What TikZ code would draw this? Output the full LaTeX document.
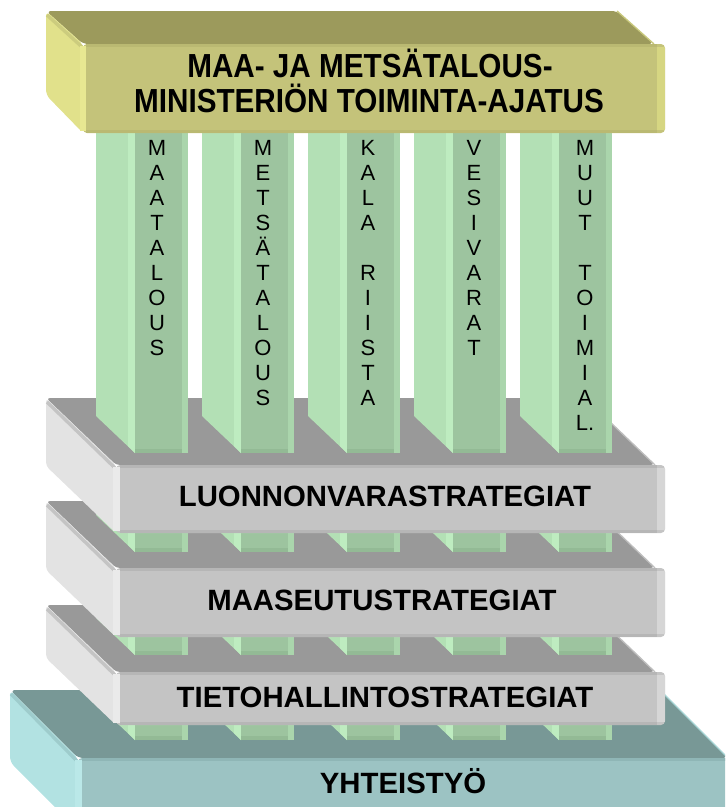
\documentclass[tikz,border=0pt]{standalone}
\usepackage{fontspec}
\setmainfont{Liberation Sans}
\newfontfamily\titlefont{Liberation Sans}[FakeStretch=0.89]
\usepackage{tikz}

% one piece of a column: left x, top y, foot y
\newcommand{\pillarseg}[3]{%
  \fill[pillarside] (#1,#2) -- (#1+39,#2) -- (#1+39,#3) -- (#1,#3-37) -- cycle;
  \fill[pillarlight] (#1+32,#2) -- (#1+39,#2) -- (#1+39,#3) -- (#1+32,#3-7) -- cycle;
  \fill[pillarfront] (#1+39,#2) rectangle (#1+92,#3);
  \fill[pillarrim] (#1+86,#2) rectangle (#1+92,#3);
  \fill[pillarfoot] (#1+39,#3-4) rectangle (#1+86,#3);
}

% one grey strategy slab: front top y, height
\newcommand{\grayslab}[2]{%
  \fill[graytop, rounded corners=3] (46,#1-67) -- (585,#1-67) -- (655,#1) -- (116,#1) -- cycle;
  \draw[grayedge] (585,#1-67) -- (655,#1);
  \fill[grayside, rounded corners=3] (46,#1-67) -- (116,#1) -- (116,#1+#2) -- (46,#1+#2-67) -- cycle;
  \draw[graybevel] (47,#1-63) -- (115,#1+3);
  \fill[grayfront, rounded corners=3] (116,#1) rectangle (665,#1+#2);
  \fill[grayband] (120,#1) rectangle (657,#1+3);
  \fill[grayband] (120,#1+#2-3) rectangle (657,#1+#2);
  \fill[graylight] (113,#1+2) rectangle (120,#1+#2-2);
  \fill[grayrim] (657,#1+3) rectangle (665,#1+#2-3);
}

\begin{document}
\begin{tikzpicture}[x=0.75pt,y=0.75pt,yscale=-1,xscale=1,
  pillarside/.style={fill={rgb, 255:red, 179; green, 224; blue, 181}},
  pillarlight/.style={fill={rgb, 255:red, 190; green, 236; blue, 192}},
  pillarfront/.style={fill={rgb, 255:red, 157; green, 196; blue, 159}},
  pillarrim/.style={fill={rgb, 255:red, 170; green, 213; blue, 172}},
  pillarfoot/.style={fill={rgb, 255:red, 147; green, 186; blue, 149}},
  graytop/.style={fill={rgb, 255:red, 153; green, 153; blue, 153}},
  grayside/.style={fill={rgb, 255:red, 227; green, 227; blue, 227}},
  grayfront/.style={fill={rgb, 255:red, 196; green, 196; blue, 196}},
  grayband/.style={fill={rgb, 255:red, 182; green, 182; blue, 182}},
  graylight/.style={fill={rgb, 255:red, 234; green, 234; blue, 234}},
  grayrim/.style={fill={rgb, 255:red, 214; green, 214; blue, 214}},
  grayedge/.style={draw={rgb, 255:red, 190; green, 190; blue, 190}, line width=1pt},
  graybevel/.style={draw={rgb, 255:red, 196; green, 196; blue, 196}, line width=2.5pt},
  tealtop/.style={fill={rgb, 255:red, 120; green, 152; blue, 150}},
  tealside/.style={fill={rgb, 255:red, 178; green, 226; blue, 226}},
  tealfront/.style={fill={rgb, 255:red, 156; green, 195; blue, 195}},
  tealband/.style={fill={rgb, 255:red, 143; green, 182; blue, 182}},
  teallight/.style={fill={rgb, 255:red, 186; green, 232; blue, 232}},
  tealedge/.style={draw={rgb, 255:red, 168; green, 214; blue, 214}, line width=1pt},
  tealbevel/.style={draw={rgb, 255:red, 158; green, 204; blue, 204}, line width=2.5pt},
  olivetop/.style={fill={rgb, 255:red, 156; green, 154; blue, 92}},
  oliveside/.style={fill={rgb, 255:red, 225; green, 225; blue, 139}},
  olivefront/.style={fill={rgb, 255:red, 196; green, 195; blue, 122}},
  oliveband/.style={fill={rgb, 255:red, 186; green, 185; blue, 114}},
  olivelight/.style={fill={rgb, 255:red, 232; green, 232; blue, 146}},
  oliverim/.style={fill={rgb, 255:red, 214; green, 214; blue, 130}},
  oliveedge/.style={draw={rgb, 255:red, 200; green, 200; blue, 124}, line width=1pt},
  olivebevel/.style={draw={rgb, 255:red, 204; green, 204; blue, 126}, line width=2.5pt},
  stratatext/.style={anchor=base, inner sep=0.75pt, font=\bfseries\fontsize{22}{26}\selectfont},
  titletext/.style={anchor=base, inner sep=0.75pt, font=\titlefont\bfseries\fontsize{25}{30}\selectfont},
  pillartext/.style={anchor=north, inner sep=0pt, align=center, font=\fontsize{16.5}{18.75}\selectfont}]
\useasboundingbox (0,0) rectangle (725,807);
\clip (0,0) rectangle (725,807);

%Shape: base slab YHTEISTYÖ
\fill[tealtop, rounded corners=4] (10,690) -- (660,690) -- (728,758) -- (78,758) -- cycle;
\draw[tealedge] (660,690) -- (728,758);
\fill[tealside, rounded corners=4] (10,690) -- (78,758) -- (78,830) -- (10,762) -- cycle;
\draw[tealbevel] (11,694) -- (77,761);
\fill[tealfront, rounded corners=3] (78,758) rectangle (745,830);
\fill[tealband] (82,758) rectangle (745,761);
\fill[teallight] (75,760) rectangle (82,830);

%Shape: column feet on the base
\foreach \px in {96,202,308,414,520} {\pillarseg{\px}{690}{740}}

%Shape: slab TIETOHALLINTO
\grayslab{672}{53}
\foreach \px in {96,202,308,414,520} {\pillarseg{\px}{580}{655}}

%Shape: slab MAASEUTU
\grayslab{568}{69}
\foreach \px in {96,202,308,414,520} {\pillarseg{\px}{480}{552}}

%Shape: slab LUONNONVARA
\grayslab{465}{68}

%Shape: columns
\foreach \px in {96,202,308,414,520} {\pillarseg{\px}{120}{453}}

%Shape: top slab
\fill[olivetop, rounded corners=4] (46,11) -- (617,11) -- (654,44) -- (83,44) -- cycle;
\draw[oliveedge] (617,11) -- (654,44);
\fill[oliveside, rounded corners=4] (46,11) -- (83,44) -- (83,133) -- (46,95) -- cycle;
\draw[olivebevel] (47,15) -- (82,47);
\fill[olivefront, rounded corners=3] (83,44) rectangle (665,133);
\fill[oliveband] (86,44) rectangle (657,47);
\fill[oliveband] (86,130) rectangle (657,133);
\fill[olivelight] (80,46) rectangle (86,131);
\fill[oliverim] (657,47) rectangle (665,130);

% Text Node
\draw (370,77) node (title1) [titletext] {MAA- JA METSÄTALOUS-};
% Text Node
\draw (369,112) node (title2) [titletext] {MINISTERIÖN TOIMINTA-AJATUS};
% Text Node
\draw (157,140) node (pmaa) [pillartext] {M\\A\\A\\T\\A\\L\\O\\U\\S};
% Text Node
\draw (263,140) node (pmets) [pillartext] {M\\E\\T\\S\\Ä\\T\\A\\L\\O\\U\\S};
% Text Node
\draw (368,140) node (pkala) [pillartext] {K\\A\\L\\A\\\mbox{}\\R\\I\\I\\S\\T\\A};
% Text Node
\draw (474,140) node (pvesi) [pillartext] {V\\E\\S\\I\\V\\A\\R\\A\\T};
% Text Node
\draw (585,140) node (pmuut) [pillartext] {M\\U\\U\\T\\\mbox{}\\T\\O\\I\\M\\I\\A\\L.};
% Text Node
\draw (385,506) node (luonto) [stratatext] {LUONNONVARASTRATEGIAT};
% Text Node
\draw (382,610) node (maaseutu) [stratatext] {MAASEUTUSTRATEGIAT};
% Text Node
\draw (385,707) node (tieto) [stratatext] {TIETOHALLINTOSTRATEGIAT};
% Text Node
\draw (403,793) node (yhteis) [stratatext] {YHTEISTYÖ};

\end{tikzpicture}
\end{document}
